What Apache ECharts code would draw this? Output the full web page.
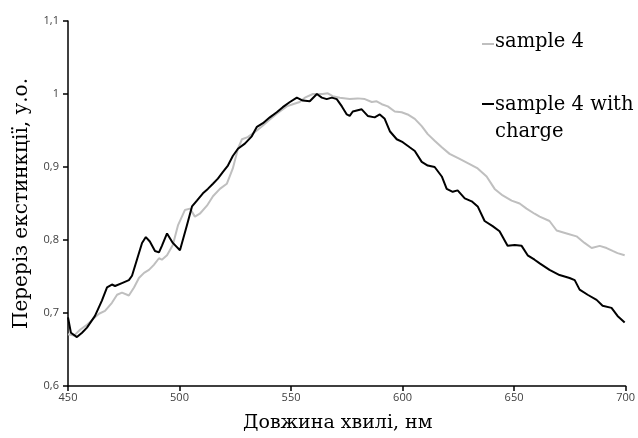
<!DOCTYPE html>
<html>
<head>
<meta charset="utf-8">
<script src="https://cdn.jsdelivr.net/npm/echarts@6/dist/echarts.min.js"></script>
<style>
  html, body { margin: 0; padding: 0; background: #fff; }
  #chart { width: 638px; height: 438px; }
</style>
</head>
<body>
<div id="chart"></div>
<script>
// Extinction spectra, wavelength in nm
const xTicks = [450, 500, 550, 600, 650, 700];
const yTicks = [0.6, 0.7, 0.8, 0.9, 1.0, 1.1];

const sample4Wl = [450.0, 452.7, 455.4, 458.5, 462.1, 463.9, 466.6, 469.7, 472.0, 474.2, 477.3, 479.6, 481.8, 484.1, 486.3, 488.5, 490.8, 492.1, 494.4, 497.0, 499.3, 502.4, 504.7, 506.9, 509.1, 512.3, 515.0, 518.1, 521.2, 523.9, 526.2, 528.0, 530.6, 534.7, 537.4, 540.5, 543.6, 548.1, 550.8, 553.9, 556.2, 559.8, 564.2, 566.5, 568.7, 571.9, 576.3, 579.9, 583.1, 586.2, 588.4, 590.7, 593.4, 596.5, 599.6, 602.3, 605.5, 608.6, 611.3, 614.4, 617.6, 621.1, 625.6, 630.1, 633.7, 637.7, 641.3, 644.9, 648.9, 652.5, 655.6, 659.2, 661.5, 665.9, 669.1, 673.6, 678.0, 681.6, 684.8, 688.4, 691.5, 694.2, 696.4, 699.6];
const sample4Val = [0.671, 0.669, 0.677, 0.684, 0.694, 0.699, 0.703, 0.714, 0.725, 0.728, 0.724, 0.735, 0.748, 0.755, 0.759, 0.766, 0.775, 0.773, 0.779, 0.793, 0.820, 0.841, 0.843, 0.832, 0.836, 0.847, 0.860, 0.870, 0.877, 0.898, 0.925, 0.938, 0.941, 0.950, 0.957, 0.965, 0.973, 0.983, 0.986, 0.989, 0.995, 1.000, 1.000, 1.001, 0.997, 0.995, 0.993, 0.994, 0.993, 0.989, 0.990, 0.986, 0.983, 0.976, 0.975, 0.972, 0.966, 0.956, 0.945, 0.936, 0.927, 0.918, 0.911, 0.904, 0.898, 0.887, 0.870, 0.861, 0.854, 0.850, 0.843, 0.836, 0.832, 0.826, 0.813, 0.809, 0.805, 0.796, 0.789, 0.792, 0.789, 0.785, 0.782, 0.779];

const chargedWl = [450.0, 451.3, 454.0, 456.3, 458.5, 462.1, 465.2, 467.5, 469.7, 471.1, 474.2, 477.3, 478.7, 480.9, 483.2, 484.9, 486.7, 489.0, 490.8, 492.1, 494.4, 497.0, 500.2, 503.3, 505.6, 507.8, 510.5, 512.7, 515.0, 517.2, 519.4, 521.7, 523.9, 526.2, 529.3, 532.4, 534.7, 537.4, 540.5, 543.6, 546.3, 549.5, 552.6, 555.3, 558.4, 561.6, 563.8, 566.0, 568.3, 570.5, 572.8, 575.0, 576.3, 577.7, 581.7, 584.4, 587.5, 589.8, 592.0, 594.3, 597.4, 600.1, 603.2, 605.5, 608.6, 611.3, 614.4, 617.6, 619.8, 622.5, 624.7, 627.9, 631.0, 633.7, 636.8, 640.4, 643.5, 647.1, 650.3, 653.4, 656.1, 659.2, 661.5, 665.9, 670.4, 674.9, 677.2, 679.4, 683.0, 687.0, 689.7, 693.7, 696.4, 699.6];
const chargedVal = [0.694, 0.673, 0.667, 0.673, 0.680, 0.696, 0.717, 0.735, 0.739, 0.737, 0.741, 0.745, 0.751, 0.773, 0.796, 0.804, 0.798, 0.785, 0.783, 0.792, 0.809, 0.796, 0.786, 0.820, 0.846, 0.854, 0.864, 0.870, 0.877, 0.884, 0.893, 0.902, 0.915, 0.925, 0.932, 0.942, 0.955, 0.960, 0.968, 0.975, 0.982, 0.989, 0.995, 0.991, 0.990, 1.000, 0.995, 0.993, 0.995, 0.993, 0.983, 0.972, 0.970, 0.976, 0.979, 0.970, 0.968, 0.972, 0.966, 0.949, 0.938, 0.934, 0.927, 0.922, 0.907, 0.902, 0.900, 0.887, 0.870, 0.866, 0.868, 0.857, 0.853, 0.846, 0.826, 0.819, 0.812, 0.792, 0.793, 0.792, 0.779, 0.773, 0.768, 0.759, 0.752, 0.748, 0.745, 0.732, 0.725, 0.718, 0.710, 0.707, 0.696, 0.687];

const seriesNames = ['sample 4', 'sample 4 with charge'];
const seriesColors = ['#bfbfbf', '#000000'];

const pair = (xs, ys) => xs.map((x, i) => [x, ys[i]]);
const fmtComma = v => String(Number(v.toFixed(1))).replace('.', ',');

const serif = '"DejaVu Serif", "Liberation Serif", serif';
const sans = '"Open Sans", "Liberation Sans", sans-serif';

const chart = echarts.init(document.getElementById('chart'), null, { renderer: 'canvas' });
chart.setOption({
  animation: false,
  backgroundColor: '#ffffff',
  grid: { left: 68, right: 12, top: 21, bottom: 49, containLabel: false },
  xAxis: {
    type: 'value',
    min: xTicks[0], max: xTicks[xTicks.length - 1], interval: 50,
    name: 'Довжина хвилі, нм',
    nameLocation: 'middle', nameGap: 28,
    nameTextStyle: { fontFamily: serif, fontSize: 19, color: '#000', padding: [0, 18, 0, 0] },
    axisLine: { lineStyle: { color: '#000', width: 1.5 } },
    axisTick: { show: true, length: 5, lineStyle: { color: '#000', width: 1.5 } },
    axisLabel: { fontFamily: sans, fontSize: 11, color: '#404040', margin: 6 },
    splitLine: { show: false }
  },
  yAxis: {
    type: 'value',
    min: yTicks[0], max: yTicks[yTicks.length - 1], interval: 0.1,
    name: 'Переріз екстинкції, у.о.',
    nameLocation: 'middle', nameGap: 36,
    nameTextStyle: { fontFamily: serif, fontSize: 20, color: '#000' },
    axisLine: { show: true, lineStyle: { color: '#000', width: 1.5 } },
    axisTick: { show: true, length: 5, lineStyle: { color: '#000', width: 1.5 } },
    axisLabel: { fontFamily: sans, fontSize: 11, color: '#404040', margin: 9, formatter: fmtComma },
    splitLine: { show: false }
  },
  graphic: [
    { type: 'line', shape: { x1: 482, y1: 44, x2: 494, y2: 44 }, style: { stroke: seriesColors[0], lineWidth: 2 } },
    { type: 'text', left: 495, top: 32, style: { text: seriesNames[0], font: '19.5px ' + serif, fill: '#000' } },
    { type: 'line', shape: { x1: 482, y1: 104, x2: 494, y2: 104 }, style: { stroke: seriesColors[1], lineWidth: 2 } },
    { type: 'text', left: 495, top: 91, style: { text: 'sample 4 with\ncharge', font: '19.5px ' + serif, fill: '#000', lineHeight: 27 } }
  ],
  series: [
    {
      name: seriesNames[0], type: 'line', showSymbol: false, smooth: false,
      data: pair(sample4Wl, sample4Val),
      lineStyle: { color: seriesColors[0], width: 2 }, z: 2
    },
    {
      name: seriesNames[1], type: 'line', showSymbol: false, smooth: false,
      data: pair(chargedWl, chargedVal),
      lineStyle: { color: seriesColors[1], width: 2 }, z: 3
    }
  ]
});
</script>
</body>
</html>
